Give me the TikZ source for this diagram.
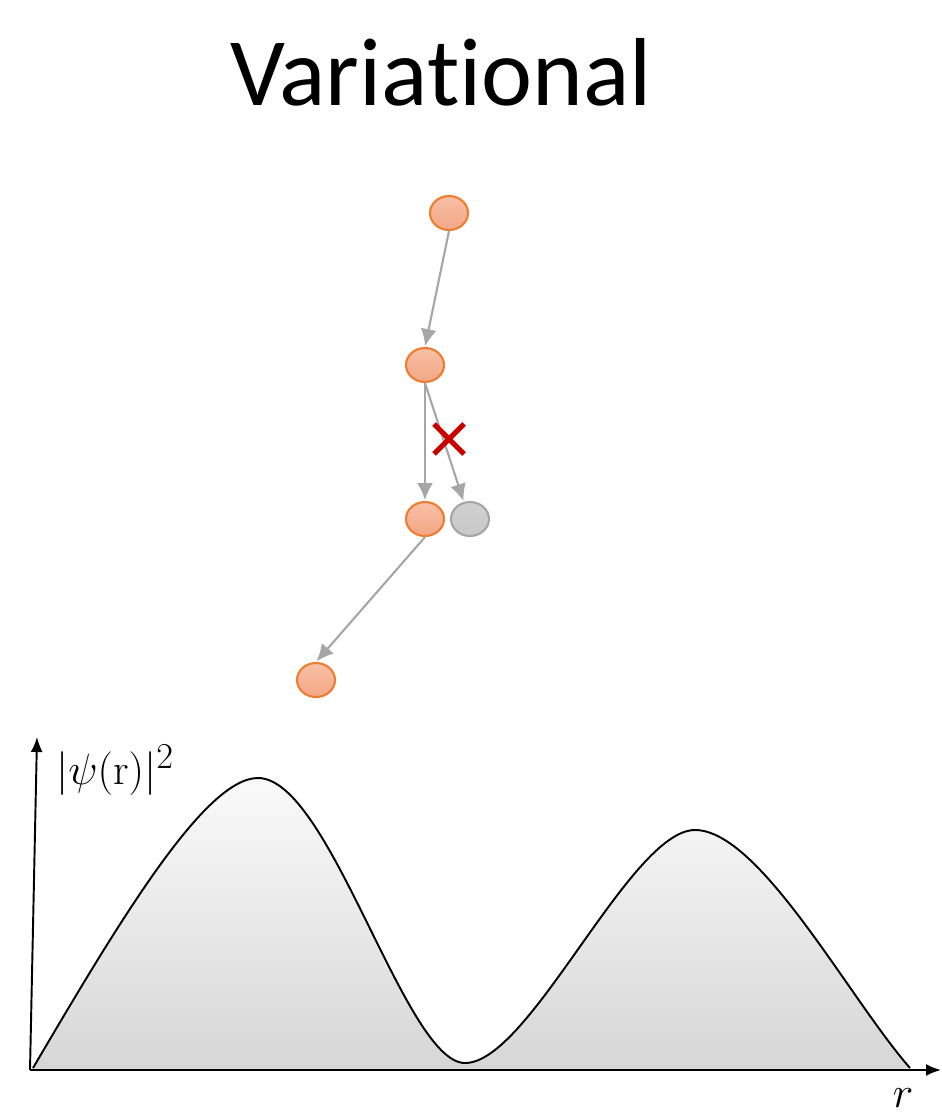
\documentclass[tikz,border=0pt]{standalone}
\usepackage[no-math]{fontspec}
\setmainfont{Carlito}[Ligatures=NoCommon, RawFeature={-liga;-clig;-calt;-dlig}]
\usepackage{tikz}
\usetikzlibrary{arrows.meta,positioning,shapes.geometric}
\definecolor{walkorange}{RGB}{237,125,49}
\definecolor{walktop}{RGB}{249,192,166}
\definecolor{walkbot}{RGB}{243,166,134}
\definecolor{rejgray}{RGB}{166,166,166}
\definecolor{rejfill}{RGB}{200,200,200}
\definecolor{steparrow}{RGB}{166,166,166}
\definecolor{crossred}{RGB}{200,0,0}
\tikzset{
  walker/.style={ellipse, draw=walkorange, line width=1.2pt, top color=walktop, bottom color=walkbot, minimum width=0.76cm, minimum height=0.68cm, inner sep=0pt},
  rejected/.style={ellipse, draw=rejgray, line width=1.2pt, top color=rejfill!85, bottom color=rejfill, minimum width=0.76cm, minimum height=0.68cm, inner sep=0pt},
  move/.style={-{Latex[length=3.4mm,width=3.2mm]}, line width=1.2pt, steparrow, shorten >=0.5pt},
  axis/.style={-{Latex[length=3mm,width=2.4mm]}, line width=1.1pt, black},
  density/.style={line width=1.1pt, black},
  crossmark/.style={line width=3pt, crossred}
}
\begin{document}
\begin{tikzpicture}[x=0.02cm,y=-0.02cm]
  \useasboundingbox (0,0) rectangle (941,1118);
  % title
  \node[font=\fontsize{55}{60}\selectfont] (title) at (441,72) {Variat\kern0pt ional};

  % random walk
  \node[walker] (w1) at (449,213) {};
  \node[walker] (w2) at (425,365) {};
  \node[walker] (w3) at (425,519) {};
  \node[rejected] (g3) at (470,519) {};
  \node[walker] (w4) at (316,680) {};
  \draw[move] (w1.south)--(w2.north);
  \draw[move] (w2.south)--(w3.north);
  \draw[move] (w2.south)--(g3.110);
  \draw[move] (w3.south)--(w4.north);
  \coordinate (xc) at (449,439);
  \draw[crossmark] ([shift={(-15,-15)}]xc)--([shift={(15,15)}]xc);
  \draw[crossmark] ([shift={(-15,15)}]xc)--([shift={(15,-15)}]xc);

  % density
  \coordinate (o) at (30,1070);
  \coordinate (ytop) at (37,737);
  \coordinate (xend) at (941,1070);
  \fill[top color=gray!4, bottom color=gray!32, shading angle=0]
    (33,1068) .. controls (120,920) and (205,778) .. (258,778)
    .. controls (330,778) and (405,1063) .. (465,1063)
    .. controls (530,1063) and (630,830) .. (695,830)
    .. controls (760,830) and (850,1000) .. (910,1068) -- cycle;
  \draw[density]
    (33,1068) .. controls (120,920) and (205,778) .. (258,778)
    .. controls (330,778) and (405,1063) .. (465,1063)
    .. controls (530,1063) and (630,830) .. (695,830)
    .. controls (760,830) and (850,1000) .. (910,1068);
  \draw[axis] (o)--(ytop);
  \draw[axis] (o)--(xend);
  \node[anchor=west, font=\fontsize{30}{34}\selectfont] (ylab) at (50,770) {$|\psi(\mathrm{r})|^{2}$};
  \node[font=\fontsize{32}{36}\selectfont] (xlab) at (903,1098) {$r$};
\end{tikzpicture}
\end{document}
